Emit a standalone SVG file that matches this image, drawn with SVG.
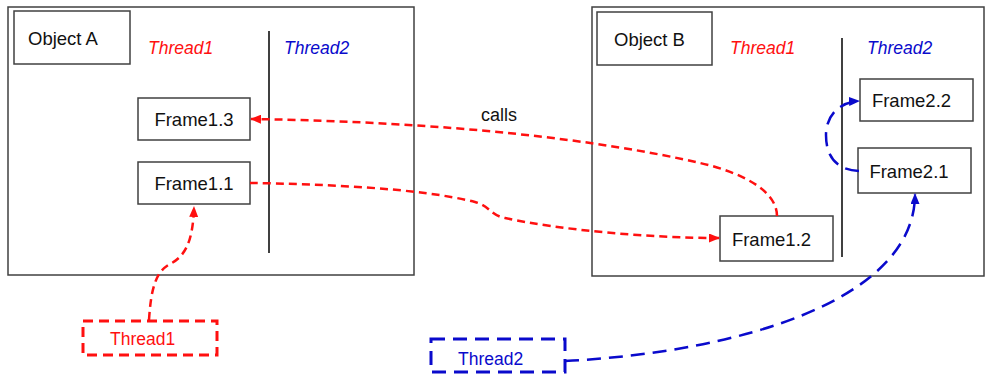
<svg xmlns="http://www.w3.org/2000/svg" width="987" height="374" viewBox="0 0 987 374">
  <style>
    .obj { fill: #fff; stroke: #404040; stroke-width: 1.5; }
    .box { fill: #fff; stroke: #404040; stroke-width: 1.5; }
    .div { stroke: #000; stroke-width: 1.5; }
    .txt { font-family: "Liberation Sans", Arial, sans-serif; font-size: 18.5px; fill: #111; }
    .mid { text-anchor: middle; }
    .t1 { font-family: "Liberation Sans", Arial, sans-serif; font-size: 17.5px; font-style: italic; fill: #ff1010; }
    .t2 { font-family: "Liberation Sans", Arial, sans-serif; font-size: 17.5px; font-style: italic; fill: #0a0acc; }
    .red { fill: none; stroke: #ff1010; stroke-width: 2.5; stroke-dasharray: 8 5; }
    .blue { fill: none; stroke: #0a0acc; stroke-width: 2.5; stroke-dasharray: 14 8; }
    .redbox { fill: #fff; stroke: #ff1010; stroke-width: 3; stroke-dasharray: 10 6; }
    .bluebox { fill: #fff; stroke: #0a0acc; stroke-width: 3; stroke-dasharray: 14 8; }
  </style>
  <defs>
    <marker id="ar" markerUnits="userSpaceOnUse" markerWidth="11" markerHeight="9" refX="10" refY="4.5" orient="auto">
      <path d="M0,0 L11,4.5 L0,9 z" fill="#ff1010"/>
    </marker>
    <marker id="ab" markerUnits="userSpaceOnUse" markerWidth="11" markerHeight="9" refX="10" refY="4.5" orient="auto">
      <path d="M0,0 L11,4.5 L0,9 z" fill="#0a0acc"/>
    </marker>
  </defs>
  <rect width="987" height="374" fill="#fff"/>

  <g id="objectA">
    <rect class="obj" x="8" y="7" width="406" height="268"/>
    <rect class="box" x="14" y="11" width="116" height="53"/>
    <text class="txt" x="28" y="45">Object A</text>
    <text class="t1" x="148" y="54">Thread1</text>
    <text class="t2" x="284" y="54">Thread2</text>
    <line class="div" x1="269" y1="31" x2="269" y2="253"/>
  </g>
  <g id="frame13">
    <rect class="box" x="138" y="98" width="112" height="42"/>
    <text class="txt mid" x="194" y="126">Frame1.3</text>
  </g>
  <g id="frame11">
    <rect class="box" x="138" y="162" width="112" height="42"/>
    <text class="txt mid" x="194" y="190">Frame1.1</text>
  </g>

  <g id="objectB">
    <rect class="obj" x="592" y="7" width="392" height="269"/>
    <rect class="box" x="597" y="12" width="115" height="53"/>
    <text class="txt" x="614" y="46">Object B</text>
    <text class="t1" x="730" y="54">Thread1</text>
    <text class="t2" x="867" y="54">Thread2</text>
    <line class="div" x1="842" y1="38" x2="842" y2="257"/>
  </g>
  <g id="frame12">
    <rect class="box" x="720" y="216" width="113" height="45"/>
    <text class="txt mid" x="771.5" y="246">Frame1.2</text>
  </g>
  <g id="frame22">
    <rect class="box" x="860" y="79" width="113" height="42"/>
    <text class="txt mid" x="911.5" y="107">Frame2.2</text>
  </g>
  <g id="frame21">
    <rect class="box" x="858" y="148" width="113" height="45"/>
    <text class="txt mid" x="909" y="178">Frame2.1</text>
  </g>

  <g id="thread1">
    <rect class="redbox" x="83" y="321" width="134" height="34"/>
    <text class="txt" x="110" y="345" style="fill:#ff1010;font-size:17.5px">Thread1</text>
  </g>
  <g id="thread2">
    <rect class="bluebox" x="431" y="339" width="134" height="33"/>
    <text class="txt" x="458" y="365" style="fill:#0a0acc;font-size:17.5px">Thread2</text>
  </g>

  <g id="connectors">
    <path class="red" d="M149,320 C151,290 155,272 170,264 C186,256 193,240 194,207" marker-end="url(#ar)"/>
    <path class="red" d="M250,183 C320,184 420,188 475,202 C490,206 490,215 505,218 C560,230 650,238 719,238" marker-end="url(#ar)"/>
    <path class="red" d="M777,216 C777,190 740,172 700,163 C600,140 450,122 251,119" marker-end="url(#ar)"/>
    <text class="txt" x="481" y="121" style="font-size:18px">calls</text>
    <path class="blue" d="M859,171 C835,170 826,155 826,135 C826,115 840,102 859,101" marker-end="url(#ab)"/>
    <path class="blue" d="M565,361 C740,352 915,300 915,194" marker-end="url(#ab)"/>
  </g>
</svg>
